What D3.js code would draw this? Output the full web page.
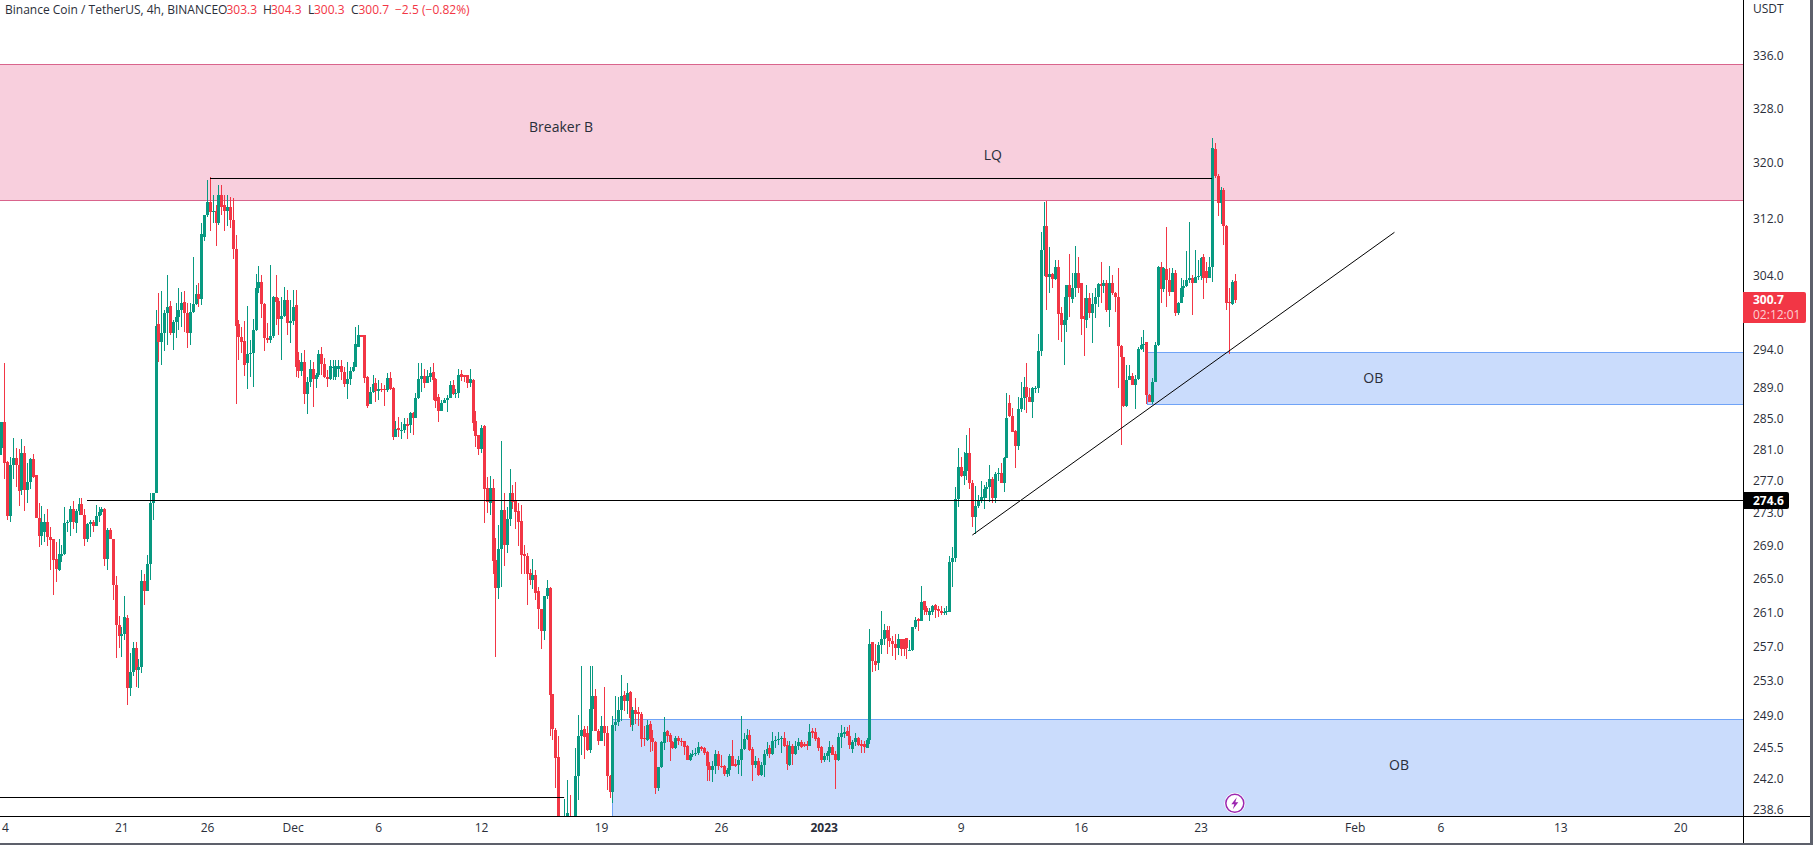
<!DOCTYPE html>
<html><head><meta charset="utf-8">
<script src="https://cdn.jsdelivr.net/npm/d3@7/dist/d3.min.js"></script>
<style>html,body{margin:0;padding:0;background:#fff;overflow:hidden}svg{display:block}text{font-family:"Open Sans","Noto Sans",sans-serif}</style>
</head><body><svg id="c" width="1813" height="845"></svg>
<script>
const firstCandle = "2022-11-13T20:00:00Z";
const candleHours = 4;
const opens = [
280.3,281.2,284.5,279.4,272.7,279,279.9,279,275.9,280.5,
275.9,276.9,279.8,277.8,272.4,270.2,270.7,271.9,270.1,269.8,
267.4,266.1,267.8,268,271.8,271.9,273.5,271.8,273.3,274.1,
272.8,269.8,271.6,271.9,271.4,272.7,273.2,273.5,267.4,270.9,
269.8,264.3,259.5,258.2,258.4,260.3,252.2,254,256.8,254.3,
254.6,264.7,263.5,266.8,274.2,275.5,297.4,295,296.3,299,
299.9,296.2,297.7,298.4,299.4,300.4,299,296.3,299.1,300.2,
301.5,300.8,309.5,312.6,314.4,313,313.1,311.4,315.4,314,
313.1,313.7,311.9,307.7,297.4,295.7,295.2,292.2,293.5,293.6,
296.6,302.4,303.2,300.2,295.6,295.3,295.9,301.1,300.6,298.1,
298.5,300.7,297.6,297.9,300,292.7,291.2,292.4,288.2,289.7,
291.4,290.1,290.6,293.5,292.1,290.4,290.1,291.6,290.4,291.5,
291.9,291,289.5,290.1,291.2,291.7,294.4,296,296,290.4,
286.8,288.4,289.6,288.6,288.8,288.8,288.7,290.3,288.9,282.6,
283.8,283.4,283.5,284.3,284.1,285.7,285.1,287.6,290.1,290.5,
289.6,290.4,291,290.1,287.8,286,287,287.4,287.7,289.3,
288.2,288.3,290.8,290.6,290.6,289.6,290,284.6,282.8,281,
284,276.1,274.3,276.1,267.3,263.9,268.6,273.4,269.1,272.3,
275.5,274.5,273.3,272,268,267.8,265.7,264.9,265.5,263.5,
261.4,258.8,262.9,263.9,251.5,247.4,244.4,237.3,235.9,237.5,
237.3,236.2,236.2,242.3,246.7,247.5,247.1,245.2,249.8,251.3,
247.3,246.2,247.9,247.1,242.3,240.6,248,248.3,249.7,251.4,
250.7,251.7,248,249.7,249.5,249.2,246.5,246.3,248.1,246.5,
246.1,241,243.3,246,247.3,246.9,246.1,245.4,246.5,246.2,
246.2,245.6,244.1,244.6,244.7,244.9,245.5,245.4,245,243.4,
243,243.4,244.7,243.4,243.4,242.5,243,244.5,243.6,243.5,
244.1,245.3,246.4,246.9,245.3,243.5,244,242.4,243.5,244.7,
245.4,244.7,246.2,246.3,246.4,246.5,245.7,243.5,245.6,244.7,
245.6,246.1,245.9,245.9,245.6,247.3,247.2,246.5,245.5,244.1,
244.5,244.9,245.5,244.7,244.1,246.6,247,247.3,246.8,245.3,
246.1,246.5,245.9,245.8,245.4,246.3,257.5,255.3,255,257.2,
257.9,258.9,258,257.6,257.3,256.8,257.8,257.8,258,256.5,
256.6,259.2,260.2,260,262.3,261.5,260.7,261,261.9,261.4,
261.1,260.9,261,261,267,267.5,274.8,278.8,277.6,278.3,
280.5,276.7,272.5,273.9,274.5,274.9,276,276.3,277.2,274.9,
277.9,278,276.7,279.9,287,285.3,283.4,281.5,286.2,287.7,
289.1,287.8,287.1,288.9,289,293.9,307.6,311,303.9,304.3,
303.6,305.2,298.9,297.3,298,302.8,300.9,302.4,304.4,303,
298.6,298,301,299,300.2,301.1,302.9,302.7,303.1,299.4,
303.1,301.7,301.1,294.5,293,286.6,290,290.5,289.4,290.1,
294.1,294.6,295,288,287.1,289.7,294.7,305.2,302.2,305,
303.5,301.8,304.4,299,300.3,302.4,302.6,303.5,303.8,303.1,
303.9,304,306.6,304.7,303.8,305.2,322,318.1,314.3,316.1,
311,300.5,300.2,303.3];
const highs = [
288.9,284.5,292.2,279.5,280,282.5,281.2,281,282.3,281.4,
279.3,279.9,280.4,277.8,274.3,273.9,272.9,273.5,271.3,269.8,
269.5,269.8,269.1,273.8,272.2,273.9,274.5,273.5,274.9,274.9,
273.5,271.8,272.2,272.2,274,273.8,273.8,273.6,271.2,271.2,
269.8,265.3,260.5,259.3,262.9,260.7,256.2,257.5,257.5,255.5,
266.1,265.6,267.9,275.5,275.5,299.4,301.7,302,299.4,304.1,
300.6,298,300.3,302.4,301.8,302,300.3,300.3,306.7,302.8,
303.1,311.4,312.6,317.6,318,315.4,314,316.8,316.8,315.4,
315.4,315.1,315,309.7,298,297.1,297.9,299.9,295.3,298.2,
304.3,305.4,304.2,300.3,297.6,305.6,301.2,304.2,301,301.1,
302.5,302.1,300.7,302.1,302.1,293.7,293.6,294,290.4,292.7,
292.4,290.9,294,294.4,292.9,291.3,292.7,292.7,292.7,292.7,
292.6,291.7,292.4,291.7,292.4,297,297.3,296,296,290.5,
289.1,290.6,290.3,290,289.6,289.3,290.9,291,289.1,284.7,
285.2,284.5,285.1,285.1,285.8,285.8,288.3,292.2,292.2,291.4,
291.3,291.7,292.2,290.3,288.2,287.4,287.7,288,289.9,290,
288.8,291.4,291.3,290.6,290.5,291.4,290.1,286,282.8,284.1,
284.1,277.5,277.6,277.3,270,271.5,282.1,275.5,273.8,278.5,
276.5,276.9,274.3,274,269.1,268.1,266.2,267.4,266,264,
261.4,262.9,264.8,264,251.5,247.6,246.8,238,239.8,241.9,
240.2,238,245.4,249.1,254.7,247.9,247.9,254.7,254.7,252.1,
247.5,249,252.3,247.9,242.4,249,251.3,251.2,253.7,251.8,
252.8,251.8,250,251,250,249.4,247.9,248.5,248.4,247.4,
246.2,243.3,246.2,248.9,247.4,247.1,246.2,246.7,246.7,246.5,
246.2,245.7,244.9,245.2,245.4,246.1,245.6,245.5,245.1,243.8,
244,245.2,245.1,244.6,243.5,243.2,244.7,246.3,244.2,244.5,
249,247.1,247.5,247.4,245.5,244.5,244.3,243.8,245.2,246.1,
245.7,247.2,246.8,247.2,246.7,247.2,246.2,246.2,245.9,246.2,
246.5,246.3,246.1,246.2,248.1,247.7,247.7,246.6,245.6,244.9,
245.1,246.2,245.7,245.1,247.1,248,247.8,247.8,248,246.3,
247.1,246.6,246.3,246.2,246.5,259,257.5,257.3,257.5,261.1,
259.6,259.4,259.4,258.2,258.4,258.4,257.8,257.8,258,257.7,
259.2,260.4,260.3,264.1,262.3,261.7,261.5,261.9,262,261.7,
261.7,261.5,261.7,267.7,268.8,276.2,281.2,280,280.7,282.9,
283.8,277.1,276.4,275.2,277,276.5,276.9,279,277.5,278.1,
278.6,279.3,280,288.3,288,286.4,283.5,287.8,289.7,290.4,
292.2,289,289.1,289.2,296.1,310.1,314.4,314.6,308,304.4,
306.2,306.2,299.7,301.1,302.8,307,304.4,308.2,306.6,303.1,
301,302.8,301.7,301.7,302.4,303.1,306,303.5,303.4,305.4,
304.2,301.8,305.1,294.7,293.1,292,292,290.9,290.6,294.4,
295.7,296.7,295,288.2,290.3,295,305.4,306,305.2,310.8,
305.1,305.1,304.8,300.4,303.8,303.5,307.5,311.5,304.2,307.6,
306.2,306.6,307,306,306.6,323.7,322.9,318.4,316.5,316.4,
311.1,302.4,303.5,304.3];
const lows = [
270.9,280.3,277.3,272.2,271.9,277.2,276.3,273.9,275.2,273.3,
274.2,276,277.4,272.4,268.9,269.1,269.5,269,266,263,
264.6,265.9,267,267.9,270.7,270.2,271.1,270.6,272.8,272.8,
269,269.4,270.1,270.7,271.4,271.9,272.8,266.5,266.1,269.8,
262.5,255.6,256.8,255.7,257.7,250.2,251.3,253.5,252.3,252.2,
253.9,261.8,263.5,264.9,272.2,275.5,292.4,292,293.9,294.7,
296,294,295.6,296.7,297.1,296.4,294.3,294.7,299,300,
299.8,300,308.9,312.3,310.3,311.4,308.2,311.1,312.6,310.3,
311,310.7,306.3,286.8,292.7,293.6,290.5,288.8,290.4,289.1,
296.5,301.7,298.3,293.9,294.9,294.9,295.6,297.3,296,292.7,
298.4,296,294.9,297.3,290.4,290.3,290.5,286.9,285.6,289.1,
286.5,289,290.4,290.6,290.3,289.1,290,290,290,290.4,
290,289.1,287.5,289.3,291,291.7,294.5,295.7,289.6,286.4,
286.8,288.3,287.1,287.4,288.4,286.6,288.4,288.7,282.2,282.6,
282.6,282.4,283.1,282.4,283.1,282.8,285.1,287.5,288.4,289,
289.6,289.7,287.4,286.4,284.5,286,287,285.8,287.7,288,
287.7,287.7,289.9,289.7,289,289.1,283.4,281.3,280.3,280.5,
271.8,273,272.8,265.6,255.7,262.6,264,266.5,268.1,271.4,
273.5,271.1,269,265.6,265.6,261.8,264.3,263.8,262.5,259,
256.7,257.7,262.6,246.7,246.3,241,236.2,235.7,235.7,237.3,
235.2,235.5,235.7,239.7,244.6,244.2,245.1,244.9,247.3,247.3,
245.7,246.2,245.6,240.8,239.9,239.4,247.3,247.9,248.4,249.6,
249.2,247.8,247.3,248.1,247.9,245.5,245.6,246.2,245,245.1,
240.3,240.7,243.2,245.2,246.1,244,245.3,245.3,245.7,245.6,
244.6,244.1,244,244.4,244.5,244.6,245.1,244.6,241.8,241.8,
241.7,242.5,243,243.2,242.3,242.2,242.3,243.4,243.3,242.5,
242.3,245.2,246.3,245.1,241.8,243.2,242.3,242.3,242.2,244.5,
244.3,244.6,245.4,245.7,244.9,245.5,243,243.4,243.5,244.6,
245.2,245.4,245.5,245.2,245.6,246.5,246.2,245.1,243.7,243.8,
244.1,243.8,244.6,240.9,244,245.4,246.5,246.7,245.3,244.9,
245.6,245.6,244.9,244.8,245.4,245.9,254,254.1,254.2,256.1,
257.2,256.1,256.9,255.9,255.4,256,255.9,255.9,255.5,256.4,
256.4,259,258.8,260,260.7,260.7,260,260.7,260.3,260.4,
260.7,260.7,260.7,261,264,267,273.8,277.5,276.5,277.1,
276,271.3,270.4,273.6,274.2,273.5,274.9,274.4,274.2,274.2,
277,276.7,275.6,279.9,285.2,283.2,278.6,280.9,285.8,286.1,
285.7,287.1,285,288.3,288.3,293.2,304,299.4,301.7,302.4,
303.5,295.3,295,292,296.4,298.4,300.3,301.1,301.7,296,
293.2,296.9,298.3,294.9,298.3,299.8,300.3,301.7,299.1,297,
301.4,299.1,289,281.6,286.5,286.5,290,289.4,286.2,290,
294,293.7,286.8,287.1,286.8,289.7,294.5,300.3,301.8,299.7,
301.3,301.8,298.5,298.7,300.3,301.1,302.5,303.1,298.7,303.1,
303.5,303.4,300.8,303.1,304.4,303.2,317.9,312.4,311.2,308.3,
299.4,293.5,300,300.3];
const closes = [
281.2,284.5,279.3,272.7,279,279.9,279,275.7,280.6,275.9,
276.9,279.8,277.5,272.4,270.2,271.9,271.9,270.1,269.7,267.3,
266.2,268,268,271.8,271.9,273.5,271.9,273.3,274.1,272.8,
269.8,271.6,271.9,271.4,272.7,273.2,273.5,267.4,270.9,269.8,
264.3,259.5,258.2,258.4,260.4,252.2,254,256.8,254.3,254.6,
264.7,263.5,266.8,274.2,275.5,297.2,295,296.3,299,299.8,
296.2,297.7,298.4,299.4,300.3,299,296.2,299.1,300.2,301.5,
300.8,309.8,312.6,314.4,313,313.1,311.4,315.4,313.7,313.1,
313.7,311.8,307.7,297.2,295.7,295,292,293.5,293.6,296.7,
302.4,303.2,300.2,295.6,295.3,295.9,301.1,300.4,298.1,298.5,
300.7,297.6,297.9,299.8,291.7,291.2,292.4,288.2,289.7,291.4,
290.1,290.6,293.5,292.1,290.4,290.1,291.8,291.7,291.8,291.8,
291,289.5,290.1,291.2,291.7,294.8,296,295.7,290.3,286.6,
288.4,289.5,288.6,288.8,288.7,288.7,290.3,288.8,282.6,283.6,
283.5,283.5,284.3,284,285.7,285.1,287.7,290.1,290.5,289.6,
290.5,290.9,290,287.3,286,287,287.4,287.7,289.3,288.2,
288.3,290.6,290.4,290.4,289.6,290.1,284.4,282.7,281,283.8,
276,274.4,276.1,267.1,263.9,268.6,273.4,269.1,272.3,275.5,
274.4,273.2,271.9,267.9,267.7,265.6,264.9,265.5,263.3,261.4,
258.8,262.9,263.9,251.4,247.5,244.3,237.3,236.2,237.8,238.3,
236.2,237,242.3,246.7,247.4,246.6,245.2,249.8,251.3,247.3,
246.2,247.9,247.1,242.3,240.6,248,248.3,249.7,251.3,250.7,
251.6,248.8,249.7,249.2,249.2,246.4,246.4,248,246.4,246.1,
241,243.3,246.1,247.2,246.8,246.1,245.4,246.5,246.2,246.1,
245.5,244.1,244.6,244.7,244.9,245.5,245.3,244.9,243.4,243,
243.4,244.7,243.4,243.3,242.5,243,244.5,243.4,243.4,244.1,
245.3,246.4,246.9,245.2,243.5,244,242.4,243.5,244.7,245.3,
244.7,246.2,246.3,246.4,246.5,245.6,243.6,245.6,244.7,245.6,
246.1,245.5,245.6,245.6,247.2,247.1,246.4,245.4,244.1,244.5,
244.9,245.5,244.6,244.1,246.6,247.1,247.2,246.8,245.7,246.1,
246.5,245.7,245.6,245.5,246.3,257.3,255.3,254.8,257.2,257.9,
258.9,258,257.6,257.3,256.8,257.9,256.7,256.7,256.8,256.6,
259.2,260.1,260,262.2,261.3,261,261.1,261.7,261.3,261.1,
260.9,261,261.1,267,267.5,274.8,278.8,277.6,278.3,280.5,
276.7,272.5,273.9,274.5,275,276,276.3,277.2,274.9,277.9,
278,276.7,279.9,285,285.3,283.2,281.5,286.2,287.7,289.1,
287.8,287.1,289,289,293.9,307.6,311,303.9,304.3,303.6,
305.2,298.8,297.3,298,302.8,301.1,302.4,304.4,302.4,298.1,
298.1,301,299,300.2,301.1,302.9,302.7,303.1,299.4,303.1,
301.7,301.1,294.5,293,286.6,290,290.5,289.4,290.1,294.1,
294.7,294.8,288,287.1,289.7,294.7,305.2,302.2,305.1,303.5,
301.8,304.4,299,300.3,302.4,302.6,303.5,303.8,303.1,303.9,
304,306.5,303.8,303.8,305.2,322.2,318.1,314.3,316.1,311,
300.3,300.3,303.2,300.7];

const yTicks = [336,328,320,312,304,294,289,285,281,277,273,269,265,261,257,253,249,245.5,242,238.6];
const xTickDates = ["2022-11-14","2022-11-21","2022-11-26","2022-12-01","2022-12-06","2022-12-12","2022-12-19","2022-12-26","2023-01-01","2023-01-09","2023-01-16","2023-01-23","2023-02-01","2023-02-06","2023-02-13","2023-02-20"];
const xTickLabels = ["14","21","26","Dec","6","12","19","26","2023","9","16","23","Feb","6","13","20"];

const zonePrices = [[334.7,314.7],[293.7,286.8],[248.7,230]];
const zoneStarts = ["2022-11-01","2023-01-19T21:00:00Z","2022-12-19T15:30:00Z"];
const zoneKinds = ["pink","blue","blue"];
const zoneEnd = "2023-03-15";
const hLinePrices = [274.6,317.9,240.0];
const hLineStarts = ["2022-11-19T00:00:00Z","2022-11-26T04:00:00Z","2022-11-01"];
const hLineEnds = ["2023-03-15","2023-01-23T16:00:00Z","2022-12-16T20:00:00Z"];
const trendDates = ["2023-01-09T16:15:00Z","2023-02-03T07:40:00Z"];
const trendPrices = [270.3,310.1];
const noteTexts = ["Breaker B","LQ","OB","OB"];
const noteDates = ["2022-12-16T16:00:00Z","2023-01-10T21:00:00Z","2023-02-02T02:00:00Z","2023-02-03T14:00:00Z"];
const notePrices = [325.2,321.2,290.2,243.5];
const lastPrice = 300.7, levelPrice = 274.6;

const W=1743,H=816;
const svg=d3.select("#c");
const x=d3.scaleUtc().domain([new Date("2022-11-14"),new Date("2023-02-20")]).range([1.45,1680.2]);
const y=d3.scaleLog().domain([336,238.6]).range([55.5,810]);
const t0=+new Date(firstCandle);
const tOf=i=>new Date(t0+i*candleHours*36e5);
const RED="#f23645",GREEN="#089981";

svg.append("defs").append("clipPath").attr("id","plot").append("rect").attr("width",W).attr("height",H);
const plot=svg.append("g").attr("clip-path","url(#plot)");

const zoneStyle={pink:{f:"#f8cfdd",s:"#d9648c"},blue:{f:"#cadcfc",s:"#6fa3f7"}};
const zones=plot.append("g");
zonePrices.forEach((z,i)=>{
  const st=zoneStyle[zoneKinds[i]],x0=Math.round(x(new Date(zoneStarts[i]))),x1=x(new Date(zoneEnd));
  const y0=Math.round(y(z[0])),y1=Math.round(y(z[1]));
  zones.append("rect").attr("x",x0).attr("y",y0).attr("width",x1-x0).attr("height",y1-y0).attr("fill",st.f);
  [y0,y1].forEach(v=>zones.append("rect").attr("x",x0).attr("y",v).attr("width",x1-x0).attr("height",1).attr("fill",st.s));
  zones.append("rect").attr("x",x0).attr("y",y0).attr("width",1).attr("height",y1-y0).attr("fill",st.s);
});

const idx=d3.range(closes.length);
const col=i=>closes[i]<opens[i]?RED:GREEN;
const cg=plot.append("g").attr("shape-rendering","crispEdges");
cg.selectAll("rect.w").data(idx).join("rect").attr("class","w")
  .attr("x",i=>Math.round(x(tOf(i)))).attr("width",1)
  .attr("y",i=>Math.round(y(highs[i]))).attr("height",i=>Math.max(1,Math.round(y(lows[i]))-Math.round(y(highs[i]))))
  .attr("fill",col);
cg.selectAll("rect.b").data(idx).join("rect").attr("class","b")
  .attr("x",i=>Math.round(x(tOf(i)))-1).attr("width",3)
  .attr("y",i=>Math.round(y(Math.max(opens[i],closes[i]))))
  .attr("height",i=>Math.max(1,Math.round(y(Math.min(opens[i],closes[i])))-Math.round(y(Math.max(opens[i],closes[i])))))
  .attr("fill",col);

const lines=plot.append("g");
hLinePrices.forEach((p,i)=>{
  lines.append("rect").attr("x",Math.round(x(new Date(hLineStarts[i])))).attr("y",Math.round(y(p)))
    .attr("width",x(new Date(hLineEnds[i]))-x(new Date(hLineStarts[i]))).attr("height",1).attr("fill","#000");
});
lines.append("line").attr("x1",x(new Date(trendDates[0]))).attr("y1",y(trendPrices[0]))
  .attr("x2",x(new Date(trendDates[1]))).attr("y2",y(trendPrices[1])).attr("stroke","#000").attr("stroke-width",1);

plot.append("g").selectAll("text").data(noteTexts).join("text")
  .attr("x",(d,i)=>x(new Date(noteDates[i]))).attr("y",(d,i)=>y(notePrices[i])).attr("text-anchor","middle")
  .attr("dy","0.35em").attr("font-size",14).attr("fill","#2a2e39").text(d=>d);

// lightning icon
const ic=plot.append("g").attr("transform",`translate(${x(tOf(closes.length-1))},803.3)`);
ic.append("circle").attr("r",10.5).attr("fill","#fff");
ic.append("circle").attr("r",9).attr("fill","#fff").attr("stroke","#9c27b0").attr("stroke-width",1.5);
ic.append("path").attr("d","M2,-6 L-3.5,1 L-0.5,1 L-2,6 L3.5,-1 L0.5,-1 Z").attr("fill","#9c27b0");

// axes
const xAx=svg.append("g").attr("transform",`translate(0,${H})`).call(
  d3.axisBottom(x).tickValues(xTickDates.map(d=>new Date(d))).tickSize(0).tickPadding(7)
   .tickFormat((d,i)=>xTickLabels[i]));
xAx.select(".domain").remove();
xAx.selectAll("text").attr("font-size",12).attr("fill","#2a2e39").attr("font-family",'"Open Sans",sans-serif')
   .attr("font-weight",(d,i)=>xTickLabels[i]==="2023"?700:400);
const yAx=svg.append("g").attr("transform",`translate(${W},0)`).call(
  d3.axisRight(y).tickValues(yTicks).tickSize(0).tickPadding(10).tickFormat(d=>d.toFixed(1)));
yAx.select(".domain").remove();
yAx.selectAll("text").attr("font-size",12).attr("fill","#2a2e39").attr("font-family",'"Open Sans",sans-serif');
svg.append("text").attr("x",1753).attr("y",12.5).attr("font-size",12).attr("fill","#2a2e39").text("USDT");

// frame
svg.append("rect").attr("x",W).attr("y",0).attr("width",1).attr("height",843).attr("fill","#000");
svg.append("rect").attr("x",0).attr("y",H).attr("width",1810).attr("height",1).attr("fill","#000");
svg.append("rect").attr("x",1810).attr("y",0).attr("width",3).attr("height",845).attr("fill","#5d606b");
svg.append("rect").attr("x",0).attr("y",843).attr("width",1813).attr("height",2).attr("fill","#5d606b");

// price badges
const by=y(lastPrice);
svg.append("path").attr("d",`M${W},${Math.round(by)-8}h61a2,2 0 0 1 2,2v27a2,2 0 0 1 -2,2h-61z`).attr("fill",RED);
svg.append("text").attr("x",1753).attr("y",by+4).attr("font-size",12).attr("font-weight",700).attr("fill","#fff").text(lastPrice.toFixed(1));
svg.append("text").attr("x",1753).attr("y",by+18.5).attr("font-size",12).attr("fill","#fcd0d4").text("02:12:01");
const ly=y(levelPrice);
svg.append("path").attr("d",`M${W},${Math.round(ly)-8}h44a2,2 0 0 1 2,2v13a2,2 0 0 1 -2,2h-44z`).attr("fill","#000");
svg.append("text").attr("x",1753).attr("y",ly+4.5).attr("font-size",12).attr("font-weight",700).attr("fill","#fff").text(levelPrice.toFixed(1));

// header
const hdr=[["Binance Coin / TetherUS, 4h, BINANCE",5,"#2a2e39"],["O",218,"#2a2e39"],["303.3",226.5,RED],["H",263,"#2a2e39"],["304.3",271,RED],["L",308,"#2a2e39"],["300.3",314,RED],["C",351,"#2a2e39"],["300.7",358.5,RED],["−2.5",395,RED],["(−0.82%)",422,RED]];
svg.append("g").selectAll("text").data(hdr).join("text").attr("x",d=>d[1]).attr("y",14).attr("font-size",12).attr("fill",d=>d[2]).text(d=>d[0]);
</script></body></html>
